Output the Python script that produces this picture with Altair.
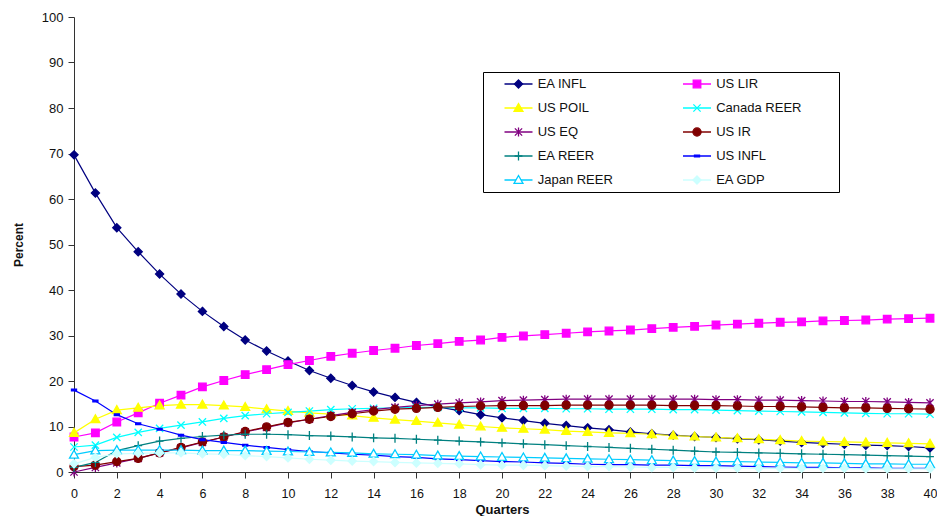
import altair as alt
import pandas as pd

quarters = list(range(41))

series_names = ["EA INFL", "US LIR", "US POIL", "Canada REER", "US EQ",
                "US IR", "EA REER", "US INFL", "Japan REER", "EA GDP"]

ea_infl = [69.7, 61.3, 53.7, 48.4, 43.5, 39.1, 35.3, 32.0, 29.0, 26.6, 24.4,
           22.3, 20.6, 19.0, 17.6, 16.4, 15.3, 14.3, 13.5, 12.6, 11.9,
           11.3, 10.7, 10.2, 9.7, 9.3, 8.8, 8.4, 8.1, 7.8, 7.6,
           7.3, 7.1, 6.8, 6.5, 6.3, 6.1, 5.9, 5.8, 5.6, 5.3]
us_lir = [7.7, 8.6, 11.0, 13.0, 15.1, 16.9, 18.7, 20.1, 21.4, 22.5, 23.6,
          24.5, 25.4, 26.1, 26.7, 27.2, 27.8, 28.2, 28.7, 29.0, 29.6,
          29.9, 30.2, 30.5, 30.8, 31.0, 31.2, 31.5, 31.8, 32.0, 32.3,
          32.5, 32.7, 32.9, 33.0, 33.2, 33.3, 33.4, 33.6, 33.7, 33.8]
us_poil = [8.6, 11.6, 13.6, 14.1, 14.6, 14.8, 14.8, 14.6, 14.3, 13.8, 13.4,
           13.0, 12.7, 12.4, 11.9, 11.5, 11.2, 10.8, 10.4, 10.0, 9.7,
           9.5, 9.3, 9.0, 8.8, 8.6, 8.5, 8.3, 8.0, 7.8, 7.6,
           7.4, 7.2, 7.0, 6.8, 6.7, 6.6, 6.5, 6.4, 6.3, 6.2]
canada_reer = [5.5, 5.9, 7.6, 8.7, 9.6, 10.3, 11.0, 11.8, 12.4, 12.8, 13.1,
               13.4, 13.7, 13.9, 14.0, 14.1, 14.2, 14.2, 14.1, 14.1, 14.0,
               14.0, 14.0, 13.9, 13.9, 13.8, 13.8, 13.8, 13.7, 13.7, 13.6,
               13.5, 13.4, 13.3, 13.2, 13.1, 13.0, 12.9, 12.8, 12.8, 12.7]
us_eq = [0.0, 1.0, 2.0, 3.0, 4.2, 5.3, 6.5, 7.7, 8.8, 9.8, 10.8,
         11.6, 12.4, 13.1, 13.7, 14.2, 14.6, 14.9, 15.2, 15.4, 15.7,
         15.8, 15.9, 16.0, 16.0, 16.0, 16.0, 16.0, 16.0, 16.0, 15.9,
         15.9, 15.8, 15.8, 15.7, 15.6, 15.5, 15.5, 15.4, 15.3, 15.2]
us_ir = [1.2, 1.5, 2.3, 3.0, 4.2, 5.4, 6.6, 7.7, 8.9, 9.9, 10.9,
         11.6, 12.2, 12.8, 13.4, 13.8, 14.0, 14.2, 14.4, 14.5, 14.6,
         14.6, 14.6, 14.7, 14.7, 14.7, 14.7, 14.7, 14.6, 14.6, 14.6,
         14.5, 14.4, 14.4, 14.3, 14.2, 14.1, 14.1, 14.0, 13.9, 13.8]
ea_reer = [1.0, 2.1, 4.7, 5.8, 6.8, 7.4, 7.8, 8.1, 8.3, 8.3, 8.2,
           8.0, 7.9, 7.7, 7.5, 7.4, 7.2, 7.0, 6.8, 6.6, 6.4,
           6.2, 6.0, 5.8, 5.6, 5.4, 5.2, 5.0, 4.8, 4.6, 4.4,
           4.3, 4.2, 4.1, 4.0, 3.9, 3.8, 3.7, 3.6, 3.5, 3.4]
us_infl = [18.0, 15.6, 12.6, 10.6, 9.4, 8.1, 7.1, 6.5, 5.9, 5.4, 4.9,
           4.5, 4.2, 3.9, 3.7, 3.4, 3.2, 2.9, 2.7, 2.5, 2.3,
           2.2, 2.0, 1.9, 1.7, 1.6, 1.6, 1.5, 1.5, 1.4, 1.4,
           1.3, 1.2, 1.1, 1.0, 1.0, 0.9, 0.9, 0.8, 0.8, 0.8]
japan_reer = [3.8, 4.7, 4.8, 4.8, 4.8, 4.8, 4.7, 4.7, 4.7, 4.6, 4.5,
              4.4, 4.3, 4.2, 4.0, 3.9, 3.8, 3.6, 3.5, 3.4, 3.3,
              3.2, 3.1, 3.0, 2.9, 2.8, 2.7, 2.6, 2.5, 2.4, 2.3,
              2.3, 2.2, 2.1, 2.0, 2.0, 1.9, 1.8, 1.8, 1.7, 1.7]
ea_gdp = [1.8, 3.2, 4.0, 4.1, 4.2, 4.2, 4.0, 3.9, 3.6, 3.4, 3.1,
          2.8, 2.6, 2.4, 2.3, 2.1, 2.0, 1.9, 1.8, 1.6, 1.5,
          1.5, 1.4, 1.3, 1.2, 1.2, 1.1, 1.0, 1.0, 0.9, 0.9,
          0.9, 0.8, 0.8, 0.8, 0.8, 0.8, 0.7, 0.7, 0.7, 0.7]

all_values = [ea_infl, us_lir, us_poil, canada_reer, us_eq,
              us_ir, ea_reer, us_infl, japan_reer, ea_gdp]

line_colors = ["#000080", "#FF00FF", "#FFFF00", "#00FFFF", "#800080",
               "#800000", "#008080", "#0000FF", "#00CCFF", "#CCFFFF"]
marker_fills = ["#000080", "#FF00FF", "#FFFF00", "transparent", "transparent",
                "#800000", "transparent", "#0000FF", "#FFFFFF", "#CCFFFF"]
marker_strokes = line_colors

DIAMOND = "M0,-0.29L0.29,0L0,0.29L-0.29,0Z"
SQUARE = "M-0.27,-0.27H0.27V0.27H-0.27Z"
TRIANGLE = "M0,-0.32L0.32,0.24L-0.32,0.24Z"
XCROSS = "M-0.26,-0.26L0.26,0.26M-0.26,0.26L0.26,-0.26"
ASTERISK = "M-0.26,-0.26L0.26,0.26M-0.26,0.26L0.26,-0.26M0,-0.32V0.32"
CIRCLE = "M0.29,0A0.29,0.29,0,1,1,-0.29,0A0.29,0.29,0,1,1,0.29,0Z"
PLUS = "M-0.28,0H0.28M0,-0.32V0.32"
DASH = "M-0.18,-0.06H0.18V0.06H-0.18Z"
marker_shapes = [DIAMOND, SQUARE, TRIANGLE, XCROSS, ASTERISK,
                 CIRCLE, PLUS, DASH, TRIANGLE, DIAMOND]

rows = []
for name, vals in zip(series_names, all_values):
    for q, v in zip(quarters, vals):
        rows.append({"quarter": q, "value": v, "series": name})
df = pd.DataFrame(rows)

FONT = "Liberation Sans"

legend_common = dict(
    title=None, orient="none", direction="horizontal",
    legendX=409, legendY=55,
    columns=2, rowPadding=8, padding=4,
    clipHeight=16, symbolSize=784, symbolStrokeWidth=1.3,
    symbolOffset=16.5,
    labelFont=FONT, labelFontSize=13, labelColor="#111111", labelLimit=400,
)

# line symbols + the visible labels
line_legend = alt.Legend(symbolType="stroke", labelOffset=4.2,
                         columnPadding=52.5, **legend_common)
# marker symbols drawn over the lines, plus the frame (labels left empty)
marker_legend = alt.Legend(labelExpr="''", symbolOpacity=1, zindex=2,
                           labelOffset=123, columnPadding=8.5,
                           strokeColor="#000000", **legend_common)

x_enc = alt.X(
    "quarter:Q",
    scale=alt.Scale(domain=[0, 40], nice=False),
    axis=alt.Axis(values=list(range(0, 41, 2)), grid=False, tickSize=6,
                  tickColor="#333333", domainColor="#333333",
                  labelFont=FONT, labelFontSize=12.5, labelColor="#111111",
                  labelPadding=9, labelFlush=False,
                  title="Quarters", titleFont=FONT, titleFontSize=13,
                  titleFontWeight="bold", titleColor="#111111",
                  titlePadding=4),
)
y_enc = alt.Y(
    "value:Q",
    scale=alt.Scale(domain=[0, 100], nice=False),
    axis=alt.Axis(values=list(range(0, 101, 10)), grid=False, tickSize=6,
                  tickColor="#333333", domainColor="#333333",
                  labelFont=FONT, labelFontSize=13, labelColor="#111111",
                  labelPadding=5,
                  title="Percent", titleFont=FONT, titleFontSize=12,
                  titleFontWeight="bold", titleColor="#111111",
                  titlePadding=16),
)

base = alt.Chart(df)

lines = base.mark_line(strokeWidth=1.2).encode(
    x=x_enc,
    y=y_enc,
    color=alt.Color("series:N",
                    scale=alt.Scale(domain=series_names, range=line_colors),
                    legend=line_legend),
)

points = base.mark_point(size=784, opacity=1, strokeWidth=1.3).encode(
    x="quarter:Q",
    y="value:Q",
    fill=alt.Fill("series:N",
                  scale=alt.Scale(domain=series_names, range=marker_fills),
                  legend=marker_legend),
    stroke=alt.Stroke("series:N",
                      scale=alt.Scale(domain=series_names, range=marker_strokes),
                      legend=marker_legend),
    shape=alt.Shape("series:N",
                    scale=alt.Scale(domain=series_names, range=marker_shapes),
                    legend=marker_legend),
)

chart = alt.layer(lines, points).resolve_legend(
    fill="independent", stroke="independent", shape="independent"
).properties(
    width=856, height=455,
    autosize=alt.AutoSizeParams(type="none"),
    padding={"left": 66, "top": 9, "right": 7, "bottom": 44},
    background="white",
).configure_view(stroke=None)

chart.save("out.html", embed_options={"renderer": "svg", "actions": False})
